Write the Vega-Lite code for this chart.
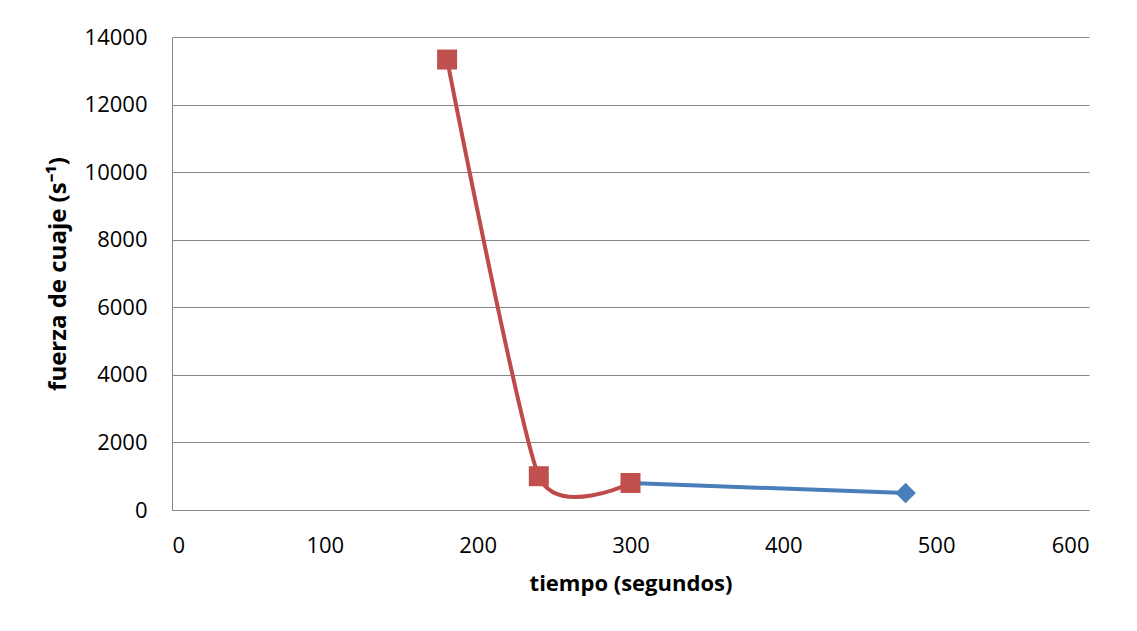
{
  "$schema": "https://vega.github.io/schema/vega-lite/v6.json",
  "width": 917,
  "height": 473,
  "autosize": {"type": "none"},
  "padding": {"left": 172, "top": 37, "right": 48, "bottom": 121},
  "background": "white",
  "config": {
    "view": {"stroke": null},
    "axis": {
      "domainColor": "#868686",
      "gridColor": "#868686",
      "gridWidth": 1,
      "ticks": false,
      "labelColor": "#000000",
      "titleColor": "#000000",
      "labelFont": "Open Sans",
      "labelFontSize": 22,
      "titleFont": "Open Sans",
      "titleFontWeight": "bold"
    }
  },
  "data": {
    "values": [
      {"serie": "A", "tiempo": 300, "fuerza": 800},
      {"serie": "A", "tiempo": 480, "fuerza": 500},
      {"serie": "B", "tiempo": 180, "fuerza": 13333},
      {"serie": "B", "tiempo": 240, "fuerza": 1000},
      {"serie": "B", "tiempo": 300, "fuerza": 800}
    ]
  },
  "encoding": {
    "x": {
      "field": "tiempo",
      "type": "quantitative",
      "scale": {"domain": [0, 600], "nice": false},
      "axis": {
        "values": [0, 100, 200, 300, 400, 500, 600],
        "grid": false,
        "labelPadding": 25,
        "title": "tiempo (segundos)",
        "titleFontSize": 22,
        "titlePadding": 17
      }
    },
    "y": {
      "field": "fuerza",
      "type": "quantitative",
      "scale": {"domain": [0, 14000], "nice": false},
      "axis": {
        "values": [0, 2000, 4000, 6000, 8000, 10000, 12000, 14000],
        "format": "d",
        "grid": true,
        "labelPadding": 25,
        "title": "fuerza de cuaje (s⁻¹)",
        "titleFontSize": 24,
        "titlePadding": 14
      }
    }
  },
  "layer": [
    {
      "transform": [{"filter": "datum.serie === 'A'"}],
      "mark": {
        "type": "line",
        "color": "#4A7EBB",
        "strokeWidth": 4,
        "point": {"filled": true, "shape": "diamond", "size": 420, "color": "#4A7EBB", "opacity": 1}
      }
    },
    {
      "transform": [{"filter": "datum.serie === 'B'"}],
      "mark": {
        "type": "line",
        "color": "#BE4B48",
        "strokeWidth": 4,
        "interpolate": "cardinal",
        "tension": 0.4,
        "point": {"filled": true, "shape": "square", "size": 400, "color": "#C0504D", "opacity": 1}
      }
    }
  ]
}
